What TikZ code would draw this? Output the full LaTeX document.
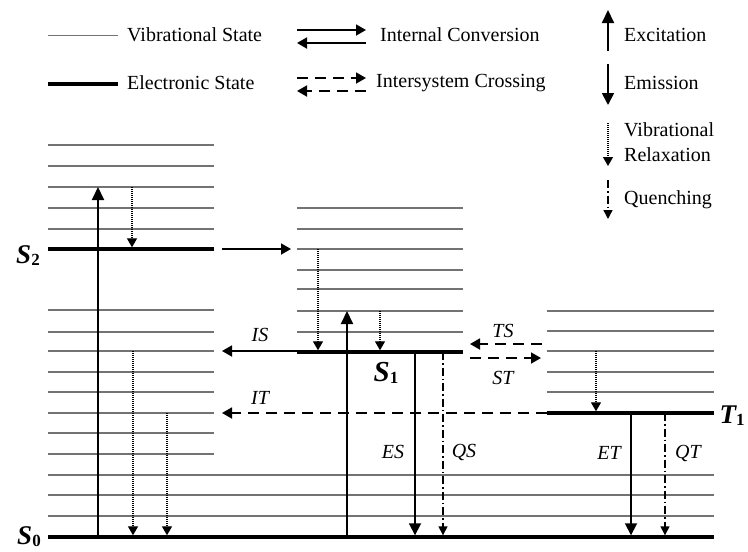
\documentclass[tikz,border=0pt]{standalone}
\usepackage{fontspec}
\setmainfont{Liberation Serif}
\usetikzlibrary{arrows.meta}
\newcommand{\stlab}[3]{{\fontsize{#3}{#3}\selectfont\bfseries\itshape #1}\raisebox{-0.45ex}{\fontsize{17}{17}\selectfont\bfseries #2}}
\begin{document}
\begin{tikzpicture}[x=1pt,y=-1pt,
  vib/.style={draw=black!55, line width=1.2pt},
  elec/.style={draw=black, line width=3.4pt},
  txt/.style={font=\fontsize{20}{24}\selectfont, inner sep=0pt, anchor=west},
  itl/.style={font=\fontsize{20}{24}\selectfont\itshape, inner sep=0pt},
  stl/.style={inner sep=0pt},
  exc/.style={line width=2pt, -{Triangle[length=13pt,width=12pt]}},
  emi/.style={line width=1.8pt, -{Triangle[length=12pt,width=12pt]}},
  icarr/.style={line width=1.8pt, -{Triangle[length=10pt,width=11pt]}},
  isc/.style={line width=1.8pt, dash pattern=on 11pt off 7pt, -{Triangle[length=10pt,width=11pt]}},
  vr/.style={line width=1.3pt, dash pattern=on 1pt off 1pt, -{Triangle[length=9pt,width=10pt]}},
  qn/.style={line width=1.4pt, dash pattern=on 8pt off 3pt on 1.5pt off 3pt, -{Triangle[length=9pt,width=9pt]}}
]
\useasboundingbox (0,0) rectangle (748,552);

% ---------- legend ----------
\draw[vib, line width=0.9pt] (48,35) -- (118,35);
\node[txt] (lvib) at (127,35) {Vibrational State};
\draw[elec] (48,84) -- (118,84);
\node[txt] (lel) at (127,83) {Electronic State};

\coordinate (icA) at (297,30); \coordinate (icB) at (366,30);
\coordinate (icC) at (366,43); \coordinate (icD) at (297,43);
\draw[icarr] (icA) -- (icB);
\draw[icarr] (icC) -- (icD);
\node[txt] (lic) at (380,35) {Internal Conversion};

\coordinate (iscA) at (297,78); \coordinate (iscB) at (366,78);
\coordinate (iscC) at (366,91); \coordinate (iscD) at (297,91);
\draw[isc] (iscA) -- (iscB);
\draw[isc] (iscC) -- (iscD);
\node[txt] (lisc) at (376,83) {Intersystem Crossing};

\coordinate (lexA) at (608,51); \coordinate (lexB) at (608,10);
\draw[exc] (lexA) -- (lexB);
\node[txt] (lexc) at (624,35) {Excitation};
\coordinate (lemA) at (608,64); \coordinate (lemB) at (608,105);
\draw[emi] (lemA) -- (lemB);
\node[txt] (lemi) at (624,83) {Emission};
\coordinate (lvrA) at (608,123); \coordinate (lvrB) at (608,166);
\draw[vr] (lvrA) -- (lvrB);
\node[txt] (lvr1) at (624,130) {Vibrational};
\node[txt] (lvr2) at (624,155) {Relaxation};
\coordinate (lqA) at (608,180); \coordinate (lqB) at (608,219);
\draw[qn] (lqA) -- (lqB);
\node[txt] (lq) at (624,200) {Quenching};

% ---------- levels ----------
\foreach \y in {145,166,187,208,229,310,332,351,372,392,413,433,454}
  \draw[vib] (48,\y) -- (214,\y);
\foreach \y in {208,229,249,270,289,311,332}
  \draw[vib] (297,\y) -- (463,\y);
\foreach \y in {311,331,351,372,392}
  \draw[vib] (547,\y) -- (714,\y);
\foreach \y in {475,495,516}
  \draw[vib] (48,\y) -- (714,\y);

\draw[elec] (48,249) -- (214,249);
\draw[elec] (297,352) -- (463,352);
\draw[elec] (547,413) -- (714,413);
\draw[elec] (48,537) -- (714,537);

\node[stl] (S2) at (28,256) {\stlab{S}{2}{27}};
\node[stl] (S0) at (29,537) {\stlab{S}{0}{27}};
\node[stl] (S1) at (386,373) {\stlab{S}{1}{29}};
\node[stl] (T1) at (732,416) {\stlab{T}{1}{27}};

% ---------- coordinates for transitions ----------
\coordinate (e1a) at (98,535);  \coordinate (e1b) at (98,187);
\coordinate (v1a) at (132,187);   \coordinate (v1b) at (132,247.3);
\coordinate (ica) at (222,249);   \coordinate (icb) at (291,249);
\coordinate (e2a) at (347,535); \coordinate (e2b) at (347,311);
\coordinate (v2a) at (318,249);   \coordinate (v2b) at (318,350.3);
\coordinate (v3a) at (380,311);   \coordinate (v3b) at (380,350.3);
\coordinate (isa) at (297,351);   \coordinate (isb) at (222,351);
\coordinate (v4a) at (133,351);   \coordinate (v4b) at (133,535.3);
\coordinate (v5a) at (167,413);   \coordinate (v5b) at (167,535.3);
\coordinate (ita) at (547,413);   \coordinate (itb) at (222,413);
\coordinate (tsa) at (542,344);   \coordinate (tsb) at (470,344);
\coordinate (sta) at (470,358);   \coordinate (stb) at (541,358);
\coordinate (v6a) at (596,351);   \coordinate (v6b) at (596,411.3);
\coordinate (esa) at (415,352);   \coordinate (esb) at (415,535.3);
\coordinate (qsa) at (443,352);   \coordinate (qsb) at (443,535.3);
\coordinate (eta) at (631,413);   \coordinate (etb) at (631,535.3);
\coordinate (qta) at (665,413);   \coordinate (qtb) at (665,535.3);

\draw[exc] (e1a) -- (e1b);
\draw[vr] (v1a) -- (v1b);
\draw[icarr] (ica) -- (icb);
\draw[exc] (e2a) -- (e2b);
\draw[vr] (v2a) -- (v2b);
\draw[vr] (v3a) -- (v3b);
\draw[icarr] (isa) -- (isb);
\draw[vr] (v4a) -- (v4b);
\draw[vr] (v5a) -- (v5b);
\draw[isc] (ita) -- (itb);
\draw[isc] (tsa) -- (tsb);
\draw[isc] (sta) -- (stb);
\draw[vr] (v6a) -- (v6b);
\draw[emi] (esa) -- (esb);
\draw[qn] (qsa) -- (qsb);
\draw[emi] (eta) -- (etb);
\draw[qn] (qta) -- (qtb);

\node[itl] (IS) at (260,335) {IS};
\node[itl] (IT) at (260,398) {IT};
\node[itl] (TS) at (503,331) {TS};
\node[itl] (ST) at (503,378) {ST};
\node[itl] (ES) at (393,452) {ES};
\node[itl] (QS) at (464,452) {QS};
\node[itl] (ET) at (609,453) {ET};
\node[itl] (QT) at (688,453) {QT};
\end{tikzpicture}
\end{document}
